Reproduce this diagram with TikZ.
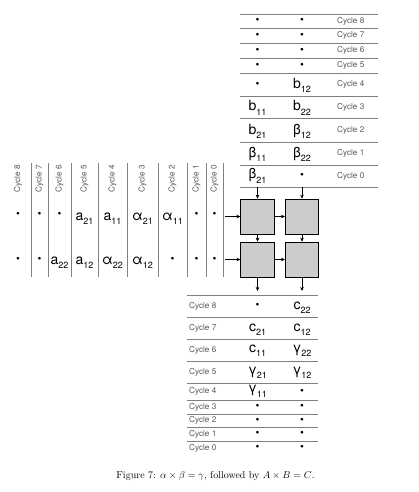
\documentclass[tikz,border=0pt]{standalone}
\usepackage{fontspec}
\newfontfamily\hv{TeX Gyre Heros}
\usetikzlibrary{arrows.meta}
\newcommand\ix[2]{#1\raisebox{-4.5pt}{\fontsize{9}{9}\selectfont #2}}
\tikzset{
  gline/.style={draw=black!50, line width=0.8pt},
  cyc/.style={font=\hv\fontsize{8.2}{9}\selectfont, text=black!65, inner sep=0pt},
  ent/.style={font=\hv\fontsize{14}{14}\selectfont, inner sep=0pt, anchor=base},
  dotent/.style={font=\hv\fontsize{11}{11}\selectfont, inner sep=0pt},
  proc/.style={draw=black, fill=black!20, minimum width=33.5pt, minimum height=35pt, inner sep=0pt, line width=0.6pt},
  arr/.style={-{Stealth[length=4pt,width=3.5pt]}, line width=0.6pt}
}
\begin{document}
\begin{tikzpicture}[x=1pt,y=-1pt]
\useasboundingbox (0,0) rectangle (419,492);
% ---------- top table ----------
\foreach \y in {14,28,43,58,73,96,118,142,165,187} \draw[gline] (240,\y) -- (378,\y);
\foreach \c/\y in {8/21,7/35.5,6/50.5,5/65.5,4/84.5,3/107,2/130,1/153.5,0/176}
  \node[cyc,anchor=west] (tl\c) at (337,\y) {Cycle \c};
\foreach \c/\y in {8/21,7/35.5,6/50.5,5/65.5}{
  \node[dotent] (ta\c) at (257.5,\y) {•};
  \node[dotent] (tb\c) at (302,\y) {•};}
\node[dotent] (ta4) at (257.5,84.5) {•};
\node[ent] (tb4) at (302,88.5) {\ix{b}{12}};
\node[ent] (ta3) at (257.5,110.5) {\ix{b}{11}};
\node[ent] (tb3) at (302,110.5) {\ix{b}{22}};
\node[ent] (ta2) at (257.5,134) {\ix{b}{21}};
\node[ent] (tb2) at (302,134) {\ix{β}{12}};
\node[ent] (ta1) at (257.5,157) {\ix{β}{11}};
\node[ent] (tb1) at (302,157) {\ix{β}{22}};
\node[ent] (ta0) at (257.5,178.5) {\ix{β}{21}};
\node[dotent] (tb0) at (302,176) {•};
% ---------- left table ----------
\foreach \x in {31,48,71,98,127,158,187,206,223} \draw[gline] (\x,163) -- (\x,277);
\foreach \c/\x in {8/18,7/39.5,6/59.5,5/84.5,4/112.5,3/142.5,2/172.5,1/196.5,0/214.5}
  \node[cyc,rotate=90,anchor=east] (ll\c) at (\x,165) {Cycle \c};
% row 1
\node[dotent] (r1c8) at (18,215) {•};
\node[dotent] (r1c7) at (39.5,215) {•};
\node[dotent] (r1c6) at (59.5,215) {•};
\node[ent] (r1c5) at (84.5,220) {\ix{a}{21}};
\node[ent] (r1c4) at (112.5,220) {\ix{a}{11}};
\node[ent] (r1c3) at (142.5,220) {\ix{α}{21}};
\node[ent] (r1c2) at (172.5,220) {\ix{α}{11}};
\node[dotent] (r1c1) at (196.5,215) {•};
\node[dotent] (r1c0) at (214.5,215) {•};
% row 2
\node[dotent] (r2c8) at (18,260) {•};
\node[dotent] (r2c7) at (39.5,260) {•};
\node[ent] (r2c6) at (59.5,264) {\ix{a}{22}};
\node[ent] (r2c5) at (84.5,264) {\ix{a}{12}};
\node[ent] (r2c4) at (112.5,264) {\ix{α}{22}};
\node[ent] (r2c3) at (142.5,264) {\ix{α}{12}};
\node[dotent] (r2c2) at (172.5,260) {•};
\node[dotent] (r2c1) at (196.5,260) {•};
\node[dotent] (r2c0) at (214.5,260) {•};
% ---------- processors ----------
\node[proc] (p11) at (257.5,216.5) {};
\node[proc] (p12) at (302,216.5) {};
\node[proc] (p21) at (257.5,259.5) {};
\node[proc] (p22) at (302,259.5) {};
\coordinate (ti1) at (257.5,187);
\coordinate (ti2) at (302,187);
\coordinate (li1) at (225,216.5);
\coordinate (li2) at (225,259.5);
\coordinate (bo1) at (257.5,291);
\coordinate (bo2) at (302,291);
\draw[arr] (ti1) -- (p11);
\draw[arr] (ti2) -- (p12);
\draw[arr] (li1) -- (p11);
\draw[arr] (li2) -- (p21);
\draw[arr] (p11) -- (p12);
\draw[arr] (p21) -- (p22);
\draw[arr] (p11) -- (p21);
\draw[arr] (p12) -- (p22);
\draw[arr] (p21) -- (bo1);
\draw[arr] (p22) -- (bo2);
% ---------- bottom table ----------
\foreach \y in {295,317,339,361,383,400,414,427,441} \draw[gline] (187,\y) -- (318,\y);
\foreach \c/\y in {8/306,7/328,6/350,5/372,4/391.5,3/407,2/420.5,1/434,0/448}
  \node[cyc,anchor=west] (bl\c) at (189,\y) {Cycle \c};
\node[dotent] (ba8) at (257.5,306) {•};
\node[ent] (bb8) at (302,309) {\ix{c}{22}};
\node[ent] (ba7) at (257.5,331) {\ix{c}{21}};
\node[ent] (bb7) at (302,331) {\ix{c}{12}};
\node[ent] (ba6) at (257.5,352) {\ix{c}{11}};
\node[ent] (bb6) at (302,352) {\ix{γ}{22}};
\node[ent] (ba5) at (257.5,374) {\ix{γ}{21}};
\node[ent] (bb5) at (302,374) {\ix{γ}{12}};
\node[ent] (ba4) at (257.5,392.5) {\ix{γ}{11}};
\node[dotent] (bb4) at (302,391.5) {•};
\foreach \c/\y in {3/407,2/420.5,1/434,0/448}{
  \node[dotent] (ba\c) at (257.5,\y) {•};
  \node[dotent] (bb\c) at (302,\y) {•};}
% ---------- caption ----------
\node[font=\fontsize{10}{12}\selectfont, anchor=base, inner sep=0pt] (cap) at (215.5,478)
  {Figure 7: $\alpha\times\beta=\gamma$, followed by $A\times B=C$.};
\end{tikzpicture}
\end{document}
